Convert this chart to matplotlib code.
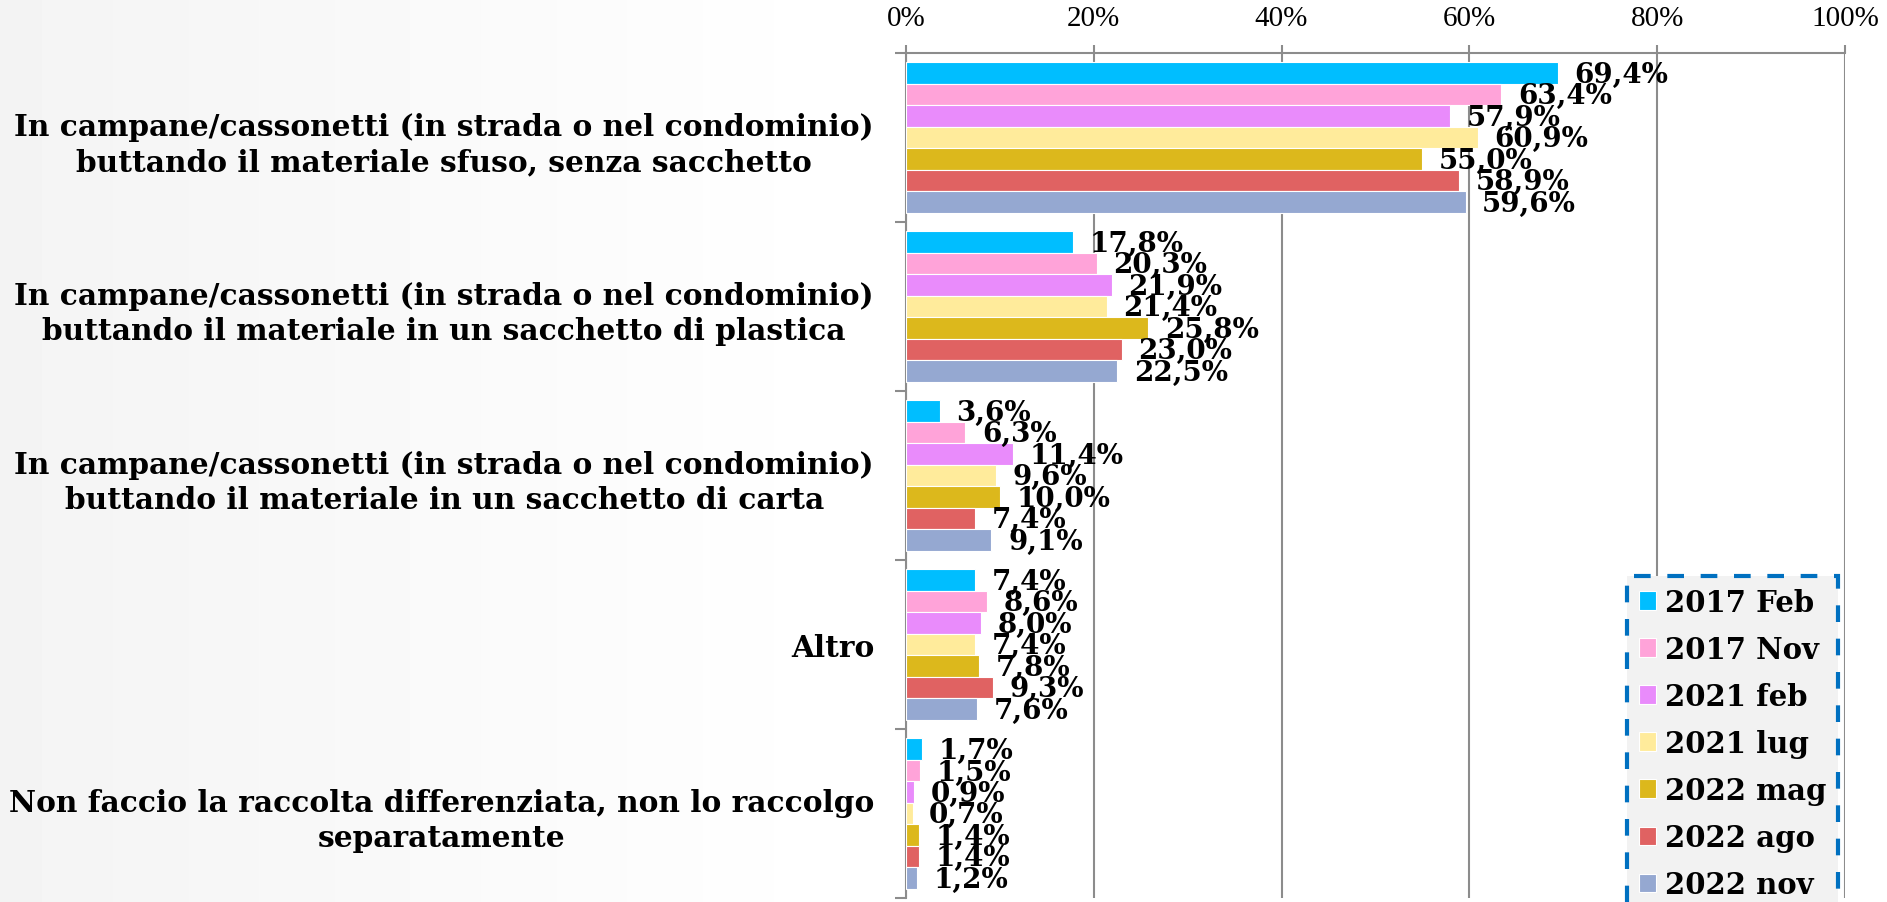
import numpy as np
import matplotlib
matplotlib.use("Agg")
import matplotlib.pyplot as plt

categories = [
    "In campane/cassonetti (in strada o nel condominio)\nbuttando il materiale sfuso, senza sacchetto",
    "In campane/cassonetti (in strada o nel condominio)\nbuttando il materiale in un sacchetto di plastica",
    "In campane/cassonetti (in strada o nel condominio)\nbuttando il materiale in un sacchetto di carta",
    "Altro",
    "Non faccio la raccolta differenziata, non lo raccolgo\nseparatamente",
]
series = ["2017 Feb", "2017 Nov", "2021 feb", "2021 lug", "2022 mag", "2022 ago", "2022 nov"]
colors = ["#00BEFF", "#FFA3D9", "#E98BFB", "#FFEB9B", "#DCB81C", "#E06262", "#95A8D1"]

v_2017_feb = [69.4, 17.8, 3.6, 7.4, 1.7]
v_2017_nov = [63.4, 20.3, 6.3, 8.6, 1.5]
v_2021_feb = [57.9, 21.9, 11.4, 8.0, 0.9]
v_2021_lug = [60.9, 21.4, 9.6, 7.4, 0.7]
v_2022_mag = [55.0, 25.8, 10.0, 7.8, 1.4]
v_2022_ago = [58.9, 23.0, 7.4, 9.3, 1.4]
v_2022_nov = [59.6, 22.5, 9.1, 7.6, 1.2]
values = [v_2017_feb, v_2017_nov, v_2021_feb, v_2021_lug, v_2022_mag, v_2022_ago, v_2022_nov]

fig = plt.figure(figsize=(18.87, 9.03), dpi=100)

# faint background gradient on the left
bg = fig.add_axes([0, 0, 1, 1], zorder=-10)
grad = np.linspace(0, 1, 400)
shade = np.clip(1 - grad / 0.45, 0, 1)
img = 1 - 0.045 * shade
bg.imshow(np.tile(img, (10, 1)), cmap="gray", vmin=0, vmax=1, aspect="auto",
          extent=[0, 1, 0, 1])
bg.set_axis_off()

ax = fig.add_axes([0.4801, 0.0044, 0.4976, 0.9358])
ax.set_facecolor("white")

y = np.arange(len(categories))
h = 0.127
for j, (name, vals, c) in enumerate(zip(series, values, colors)):
    pos = y + (j - 3) * h
    ax.barh(pos, vals, height=h, color=c, edgecolor="white", linewidth=0.8,
            label=name, zorder=3)
    for p, v in zip(pos, vals):
        ax.annotate(f"{v:.1f}%".replace(".", ","), (v, p), xytext=(12, -1),
                    textcoords="offset points", ha="left", va="center",
                    fontsize=20, fontweight="bold", family="DejaVu Serif",
                    zorder=5)

ax.set_xlim(0, 100)
ax.set_ylim(4.5, -0.5)
ax.xaxis.tick_top()
ax.set_xticks(np.arange(0, 101, 20))
ax.set_xticklabels([f"{t}%" for t in range(0, 101, 20)], family="Liberation Serif",
                   fontsize=21)
ax.tick_params(axis="x", direction="out", length=6, width=1.5, color="#8c8c8c", pad=10)
ax.grid(axis="x", color="#8c8c8c", linewidth=1.5, zorder=0)

ax.set_yticks(y)
ax.set_yticklabels(categories, fontsize=21.3, fontweight="bold", family="DejaVu Serif",
                   linespacing=1.3)
ax.tick_params(axis="y", which="major", length=0, pad=23)
ax.set_yticks(np.arange(-0.5, 4.6, 1), minor=True)
ax.tick_params(axis="y", which="minor", direction="out", length=8, width=1.5,
               color="#8c8c8c")
for lab in ax.get_yticklabels():
    lab.set_horizontalalignment("right")
    lab.set_multialignment("center")

for s in ["right", "bottom"]:
    ax.spines[s].set_visible(False)
for s in ["left", "top"]:
    ax.spines[s].set_color("#8c8c8c")
    ax.spines[s].set_linewidth(1.5)

leg = fig.legend(loc="upper left", bbox_to_anchor=(1627 / 1887, 1 - 577 / 903),
                 prop={"family": "DejaVu Serif", "weight": "bold", "size": 21},
                 handlelength=0.6, handleheight=0.6, handletextpad=0.3,
                 labelspacing=0.62, borderpad=0.4, borderaxespad=0,
                 fancybox=False, framealpha=1)
frame = leg.get_frame()
frame.set_facecolor("#f2f2f2")
frame.set_edgecolor("#0070C0")
frame.set_linewidth(3)
frame.set_linestyle((0, (4, 4)))

fig.savefig("out.png", dpi=100)
